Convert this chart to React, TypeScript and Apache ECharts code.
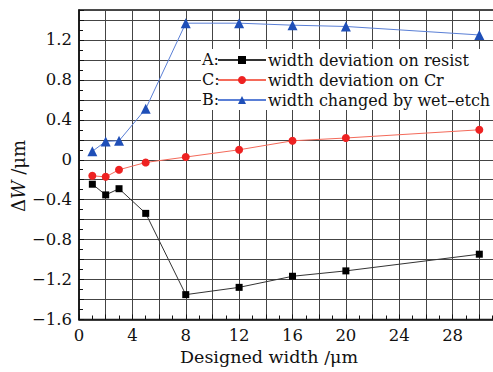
import React, { useEffect, useRef } from "react";
import * as echarts from "echarts";

const xValues = [1, 2, 3, 5, 8, 12, 16, 20, 30];
const seriesA = [-0.245, -0.352, -0.29, -0.537, -1.351, -1.278, -1.167, -1.113, -0.946];
const seriesC = [-0.161, -0.171, -0.1, -0.027, 0.027, 0.1, 0.19, 0.218, 0.3];
const seriesB = [0.084, 0.184, 0.19, 0.51, 1.368, 1.368, 1.348, 1.335, 1.25];
const names = ["width deviation on resist", "width deviation on Cr", "width changed by wet\u2013etch"];
const prefixes = ["A:", "C:", "B:"];

const FONT = "DejaVu Serif";

export default function App() {
  const ref = useRef<HTMLDivElement>(null);
  useEffect(() => {
    document.body.style.margin = "0";
    const chart = echarts.init(ref.current!, null, { renderer: "svg" });
    const pair = (ys: number[]) => xValues.map((x, i) => [x, ys[i]]);
    const fmtY = (v: number) => {
      const t = Math.round(v * 10);
      if (t % 4 !== 0) return "";
      if (t === 0) return "0";
      return (t < 0 ? "\u2212" : "") + (Math.abs(t) / 10).toFixed(1);
    };
    chart.setOption({
      animation: false,
      backgroundColor: "#fff",
      grid: {
        left: 79, top: 10, width: 427, height: 309.5, show: true,
        borderColor: "#111", borderWidth: 1.5, outerBoundsMode: "none", containLabel: false,
      },
      xAxis: {
        type: "value",
        min: 0,
        max: 32,
        interval: 2,
        axisLine: { show: true, onZero: false, lineStyle: { color: "#111", width: 1.5 } },
        axisTick: { show: true, inside: true, length: 5, lineStyle: { color: "#111" } },
        minorTick: { show: true, splitNumber: 2, length: 4, lineStyle: { color: "#111" } },
        splitLine: { show: true, lineStyle: { color: "#444", width: 1 } },
        axisLabel: {
          formatter: (v: number) => (Math.round(v) % 4 === 0 && v <= 30 ? String(v) : ""),
          fontFamily: FONT, fontSize: 16.5, color: "#111", margin: 7,
        },
      },
      yAxis: {
        type: "value",
        min: -1.6,
        max: 1.5,
        interval: 0.2,
        axisLine: { show: true, onZero: false, lineStyle: { color: "#111", width: 1.5 } },
        axisTick: { show: true, inside: true, length: 5, lineStyle: { color: "#111" } },
        minorTick: { show: true, splitNumber: 2, length: 4, lineStyle: { color: "#111" } },
        splitLine: { show: true, lineStyle: { color: "#444", width: 1 } },
        axisLabel: { formatter: fmtY, fontFamily: FONT, fontSize: 16.5, color: "#111", margin: 7 },
      },
      legend: {
        orient: "vertical",
        left: 217,
        top: 50,
        itemWidth: 48,
        itemHeight: 10,
        itemGap: 0,
        padding: 0,
        data: names,
        textStyle: { fontFamily: FONT, fontSize: 16, color: "#111", lineHeight: 20, padding: [0, 0, 0, -3] },
      },
      graphic: [
        { type: "rect", shape: { x: 201, y: 49, width: 292, height: 61 }, style: { fill: "#fff" }, z: 3 },
        ...prefixes.map((p, i) => ({
          type: "text", left: 202, top: 51 + i * 20, z: 5,
          style: { text: p, font: `16px "${FONT}"`, fill: "#111" },
        })),
        {
          type: "text", left: 180, top: 348, z: 5,
          style: { text: "Designed width /\u03bcm", font: `17.5px "${FONT}"`, fill: "#111" },
        },
        {
          type: "text", x: 9, y: 212, rotation: Math.PI / 2, originX: 0, originY: 0, z: 5,
          style: {
            text: "\u0394{i|W} /\u03bcm",
            font: `18px "${FONT}"`, fill: "#111",
            rich: { i: { fontStyle: "italic", fontFamily: FONT, fontSize: 18, fill: "#111" } },
          },
        },
      ],
      series: [
        {
          name: names[0], type: "line", data: pair(seriesA), symbol: "rect", symbolSize: 7,
          itemStyle: { color: "#000" }, lineStyle: { color: "#333", width: 1 }, z: 2,
        },
        {
          name: names[1], type: "line", data: pair(seriesC), symbol: "circle", symbolSize: 8,
          itemStyle: { color: "#ee2222" }, lineStyle: { color: "#f46a5a", width: 1 }, z: 2,
        },
        {
          name: names[2], type: "line", data: pair(seriesB), symbol: "triangle", symbolSize: 10,
          itemStyle: { color: "#1f4fb8" }, lineStyle: { color: "#5a7fd6", width: 1 }, z: 2,
        },
      ],
    });
    return () => chart.dispose();
  }, []);
  return <div ref={ref} style={{ width: 493, height: 372 }} />;
}
